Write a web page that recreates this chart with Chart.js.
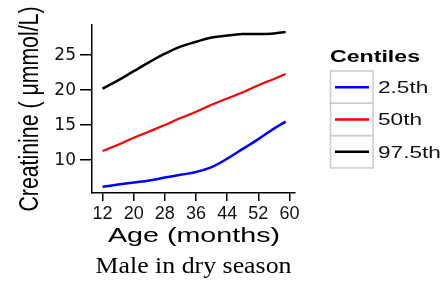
<!DOCTYPE html>
<html>
<head>
<meta charset="utf-8">
<script src="https://cdn.jsdelivr.net/npm/chart.js@4/dist/chart.umd.min.js"></script>
<style>
  html, body { margin: 0; padding: 0; background: #fff; }
  #wrap { width: 443px; height: 281px; }
</style>
</head>
<body>
<div id="wrap"><canvas id="creatChart" width="443" height="281"></canvas></div>
<script>
// Values
const ages = [12, 16, 20, 24, 28, 32, 36, 40, 44, 48, 52, 56, 59];
const p2_5 = [6.2, 6.5, 6.8, 7.1, 7.5, 7.9, 8.3, 9.0, 10.2, 11.6, 13.0, 14.5, 15.5];
const p50 = [11.3, 12.2, 13.2, 14.1, 15.0, 16.0, 16.9, 17.9, 18.8, 19.7, 20.7, 21.6, 22.3];
const p97_5 = [20.2, 21.4, 22.7, 24.0, 25.2, 26.2, 26.9, 27.5, 27.8, 28.0, 28.0, 28.1, 28.3];

const xTicks = [12, 20, 28, 36, 44, 52, 60];
const yTicks = [10, 15, 20, 25];
const centileLabels = ['2.5th', '50th', '97.5th'];
const centileColors = ['#0000ff', '#ff0000', '#000000'];

const yTitle = 'Creatinine ( \u03bcmmol/L)';
const xTitle = 'Age (months)';
const caption = 'Male in dry season';
const legendTitle = 'Centiles';

function toPoints(vals) {
    return ages.map((a, i) => ({ x: a, y: vals[i] }));
}

// text in the picture is stretched sideways, so draw it scaled
function stretchText(ctx, text, x, y, font, sx) {
    ctx.save();
    ctx.font = font;
    ctx.textAlign = 'left';
    ctx.textBaseline = 'alphabetic';
    ctx.translate(x, y);
    ctx.scale(sx, 1);
    ctx.fillText(text, 0, 0);
    ctx.restore();
}

function fitScale(ctx, text, font, width) {
    ctx.font = font;
    return width / ctx.measureText(text).width;
}

const extras = {
    id: 'extras',
    afterDraw(chart) {
        const ctx = chart.ctx;
        ctx.fillStyle = '#000';

        // y axis title, rotated
        const yFont = '21px "Liberation Sans", Arial, sans-serif';
        const yLen = fitScale(ctx, yTitle, yFont, 205);
        ctx.save();
        ctx.font = yFont;
        ctx.translate(37.5, 211.5);
        ctx.rotate(-Math.PI / 2);
        ctx.scale(yLen, 1.35);
        ctx.fillText(yTitle, 0, 0);
        ctx.restore();

        // x axis title
        const xFont = '21px "Liberation Sans", Arial, sans-serif';
        stretchText(ctx, xTitle, 108, 241.5, xFont, fitScale(ctx, xTitle, xFont, 172));

        // caption
        const cFont = '23px "Liberation Serif", "Times New Roman", serif';
        stretchText(ctx, caption, 95.5, 273, cFont, fitScale(ctx, caption, cFont, 196));

        // legend
        const ltFont = 'bold 17px "Liberation Sans", Arial, sans-serif';
        stretchText(ctx, legendTitle, 330, 61.5, ltFont, fitScale(ctx, legendTitle, ltFont, 90));

        const boxL = 330.5, boxR = 373, top = 71, rowH = 32.3;
        chart.data.datasets.forEach((ds, i) => {
            const y0 = top + i * rowH;
            ctx.strokeStyle = '#cccccc';
            ctx.lineWidth = 1.5;
            ctx.strokeRect(boxL, y0, boxR - boxL, rowH);
            ctx.strokeStyle = ds.borderColor;
            ctx.lineWidth = 2.5;
            ctx.beginPath();
            ctx.moveTo(335, y0 + rowH / 2);
            ctx.lineTo(369, y0 + rowH / 2);
            ctx.stroke();
            ctx.fillStyle = '#111';
            stretchText(ctx, ds.label, 378, y0 + rowH / 2 + 6,
                '16.5px "Liberation Sans", Arial, sans-serif', 1.37);
        });
    }
};

const ctx = document.getElementById('creatChart').getContext('2d');
new Chart(ctx, {
    type: 'line',
    data: {
        datasets: [p2_5, p50, p97_5].map((vals, i) => ({
            label: centileLabels[i],
            data: toPoints(vals),
            borderColor: centileColors[i],
            borderWidth: i === 1 ? 2.2 : 2.5,
            pointRadius: 0,
            fill: false,
            tension: 0.4
        }))
    },
    options: {
        responsive: false,
        animation: false,
        layout: { padding: { top: 25, right: 148, left: 0, bottom: 0 } },
        plugins: { legend: { display: false }, tooltip: { enabled: false } },
        scales: {
            x: {
                type: 'linear',
                min: 9.3,
                max: 61.4,
                afterBuildTicks: axis => { axis.ticks = xTicks.map(v => ({ value: v })); },
                afterFit: axis => { axis.height = 88; },
                grid: { display: true, drawOnChartArea: false, color: '#000', lineWidth: 1.5, tickLength: 8 },
                border: { color: '#000', width: 1.5 },
                ticks: {
                    color: '#111',
                    padding: 2,
                    maxRotation: 0,
                    autoSkip: false,
                    font: { family: '"Liberation Sans", Arial, sans-serif', size: 18 }
                }
            },
            y: {
                min: 5.3,
                max: 29.3,
                afterBuildTicks: axis => { axis.ticks = yTicks.map(v => ({ value: v })); },
                afterFit: axis => { axis.width = 92; },
                grid: { display: true, drawOnChartArea: false, color: '#000', lineWidth: 1.5, tickLength: 12 },
                border: { color: '#000', width: 1.5 },
                ticks: {
                    color: '#111',
                    padding: 4,
                    autoSkip: false,
                    font: { family: '"DejaVu Sans", sans-serif', size: 17 }
                }
            }
        }
    },
    plugins: [extras]
});
</script>
</body>
</html>
